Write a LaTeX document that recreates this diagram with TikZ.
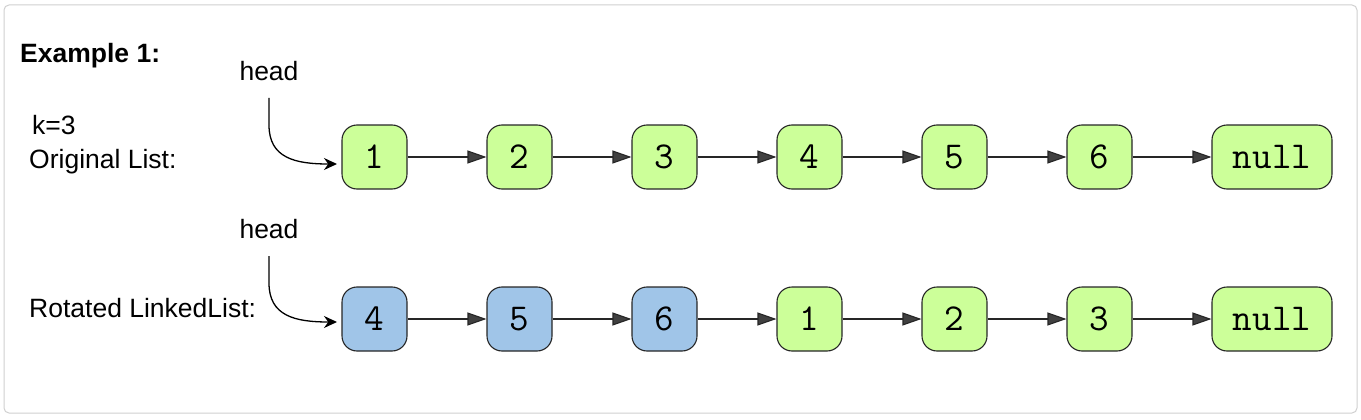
\documentclass[tikz,border=0pt]{standalone}
\usepackage{fontspec}
\setmainfont{Liberation Sans}
\usetikzlibrary{arrows.meta}
\definecolor{lgreen}{HTML}{CCFF99}
\definecolor{lblue}{HTML}{A0C5E8}
\definecolor{framegray}{HTML}{D0D0D0}
\definecolor{tipgray}{HTML}{404040}
\tikzset{
  x=1pt, y=-1pt,
  listnode/.style={draw=black!85, line width=1.1pt, rounded corners=15pt, minimum width=65pt, minimum height=64pt, inner sep=0pt, font=\ttfamily\fontsize{38}{38}\selectfont},
  gnode/.style={listnode, fill=lgreen},
  bnode/.style={listnode, fill=lblue},
  nullnode/.style={gnode, minimum width=120pt},
  link/.style={draw=black!85, line width=1.1pt, -{Triangle[length=19pt,width=13pt,fill=tipgray]}},
  headarrow/.style={draw=black, line width=1.3pt, -{Stealth[length=13pt,width=12pt]}},
  lab/.style={font=\fontsize{26.5}{26.5}\selectfont, inner sep=0pt},
}
\begin{document}
\begin{tikzpicture}
\useasboundingbox (0,0) rectangle (1361,420);
\draw[framegray, line width=1pt, rounded corners=5pt] (4,5) rectangle (1357,413);

\node[lab, anchor=base west, font=\bfseries\fontsize{26.5}{26.5}\selectfont] (ex) at (20,63) {Example 1:};
\node[lab, anchor=base west] (k) at (32,135) {k=3};
\node[lab, anchor=base west] (orig) at (29,168) {Original List:};
\node[lab, anchor=base west] (rot) at (29,317) {Rotated LinkedList:};
\node[lab, anchor=base] (head1) at (269,81) {head};
\node[lab, anchor=base] (head2) at (269,238) {head};

% row 1
\node[gnode] (a1) at (374.5,157) {1};
\node[gnode] (a2) at (519.5,157) {2};
\node[gnode] (a3) at (664.5,157) {3};
\node[gnode] (a4) at (809.5,157) {4};
\node[gnode] (a5) at (954.5,157) {5};
\node[gnode] (a6) at (1099.5,157) {6};
\node[nullnode] (a7) at (1272,157) {null};
% row 2
\node[bnode] (b1) at (374.5,319) {4};
\node[bnode] (b2) at (519.5,319) {5};
\node[bnode] (b3) at (664.5,319) {6};
\node[gnode] (b4) at (809.5,319) {1};
\node[gnode] (b5) at (954.5,319) {2};
\node[gnode] (b6) at (1099.5,319) {3};
\node[nullnode] (b7) at (1272,319) {null};

\foreach \i/\j in {1/2,2/3,3/4,4/5,5/6,6/7} {
  \draw[link] (a\i.east) -- (a\j.west);
  \draw[link] (b\i.east) -- (b\j.west);
}

\coordinate (h1s) at (269,98);
\coordinate (h1e) at (337,164);
\coordinate (h2s) at (269,256);
\coordinate (h2e) at (337,322);
\draw[headarrow] (h1s) -- (269,125) .. controls (269,158) and (295,164) .. (h1e);
\draw[headarrow] (h2s) -- (269,283) .. controls (269,316) and (295,322) .. (h2e);
\end{tikzpicture}
\end{document}
